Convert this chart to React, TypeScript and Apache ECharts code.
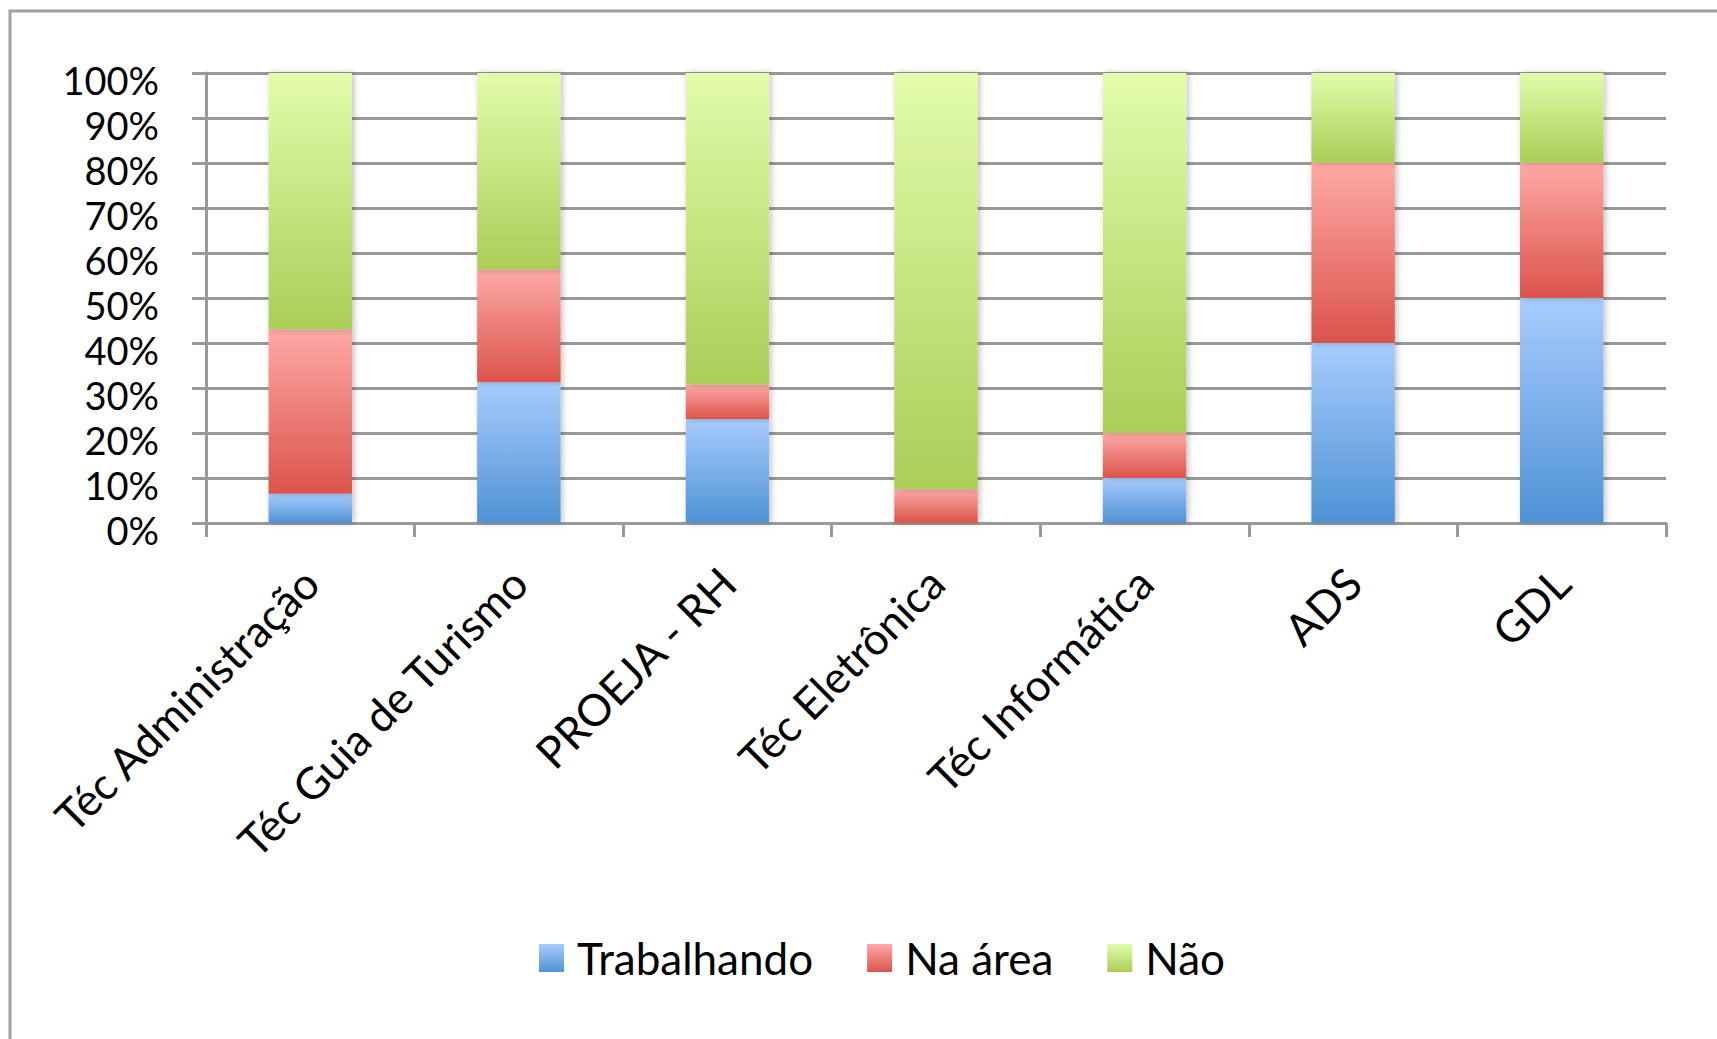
import React, { useEffect, useRef } from "react";
import * as echarts from "echarts";

const categories = [
  "Téc Administração",
  "Téc Guia de Turismo",
  "PROEJA - RH",
  "Téc Eletrônica",
  "Téc Informática",
  "ADS",
  "GDL",
];
const trabalhando = [6.5, 31.3, 23.1, 0, 10, 40, 50];
const naArea = [36.5, 25, 7.7, 7.5, 10, 40, 30];
const nao = [57, 43.7, 69.2, 92.5, 80, 20, 20];
const seriesNames = ["Trabalhando", "Na área", "Não"];

const FONT = "Lato";

function grad(top: string, bottom: string) {
  return new echarts.graphic.LinearGradient(0, 0, 0, 1, [
    { offset: 0, color: top },
    { offset: 1, color: bottom },
  ]);
}

export default function App() {
  const ref = useRef<HTMLDivElement>(null);
  useEffect(() => {
    if (!ref.current) return;
    const chart = echarts.init(ref.current, undefined, { renderer: "svg" });
    const barStyle = (top: string, bottom: string) => ({
      color: grad(top, bottom),
      shadowColor: "rgba(0,0,0,0.25)",
      shadowBlur: 6,
      shadowOffsetX: 2,
    });
    chart.setOption({
      animation: false,
      backgroundColor: "#ffffff",
      textStyle: { fontFamily: FONT, color: "#000" },
      graphic: [
        {
          type: "rect",
          shape: { x: 10, y: 11, width: 2000, height: 2000 },
          style: { fill: "none", stroke: "#a0a0a0", lineWidth: 3 },
          silent: true,
        },
      ],
      grid: { left: 206, right: 51, top: 73, bottom: 516 },
      legend: {
        left: 539,
        top: 933,
        itemWidth: 25,
        itemHeight: 28,
        itemGap: 54,
        padding: 0,
        icon: "rect",
        data: seriesNames,
        textStyle: {
          fontFamily: FONT,
          fontSize: 44,
          lineHeight: 50,
          color: "#000",
          padding: [0, 0, 0, 8],
        },
      },
      xAxis: {
        type: "category",
        data: categories,
        axisLine: { show: true, lineStyle: { color: "#999999", width: 3 } },
        axisTick: { show: true, length: 14, lineStyle: { color: "#999999", width: 3 } },
        axisLabel: {
          rotate: 45,
          interval: 0,
          margin: 52,
          fontFamily: FONT,
          fontSize: 44,
          color: "#000",
        },
      },
      yAxis: {
        type: "value",
        min: 0,
        max: 100,
        interval: 10,
        axisLine: { show: true, lineStyle: { color: "#999999", width: 3 } },
        axisTick: { show: true, length: 14, lineStyle: { color: "#999999", width: 3 } },
        splitLine: { show: true, lineStyle: { color: "#999999", width: 3 } },
        axisLabel: {
          formatter: "{value}%",
          margin: 47,
          fontFamily: FONT,
          fontSize: 38,
          lineHeight: 14,
          verticalAlign: "top",
          color: "#000",
        },
      },
      series: [
        {
          name: seriesNames[0],
          type: "bar",
          stack: "total",
          barWidth: "40%",
          data: trabalhando,
          itemStyle: barStyle("#a8ccfd", "#4f92d5"),
        },
        {
          name: seriesNames[1],
          type: "bar",
          stack: "total",
          barWidth: "40%",
          data: naArea,
          itemStyle: barStyle("#fea9a6", "#db544c"),
        },
        {
          name: seriesNames[2],
          type: "bar",
          stack: "total",
          barWidth: "40%",
          data: nao,
          itemStyle: barStyle("#e2fcac", "#abcd58"),
        },
      ],
    });
    return () => chart.dispose();
  }, []);
  return (
    <div
      ref={ref}
      style={{ position: "absolute", left: 0, top: 0, width: 1717, height: 1039 }}
    />
  );
}
